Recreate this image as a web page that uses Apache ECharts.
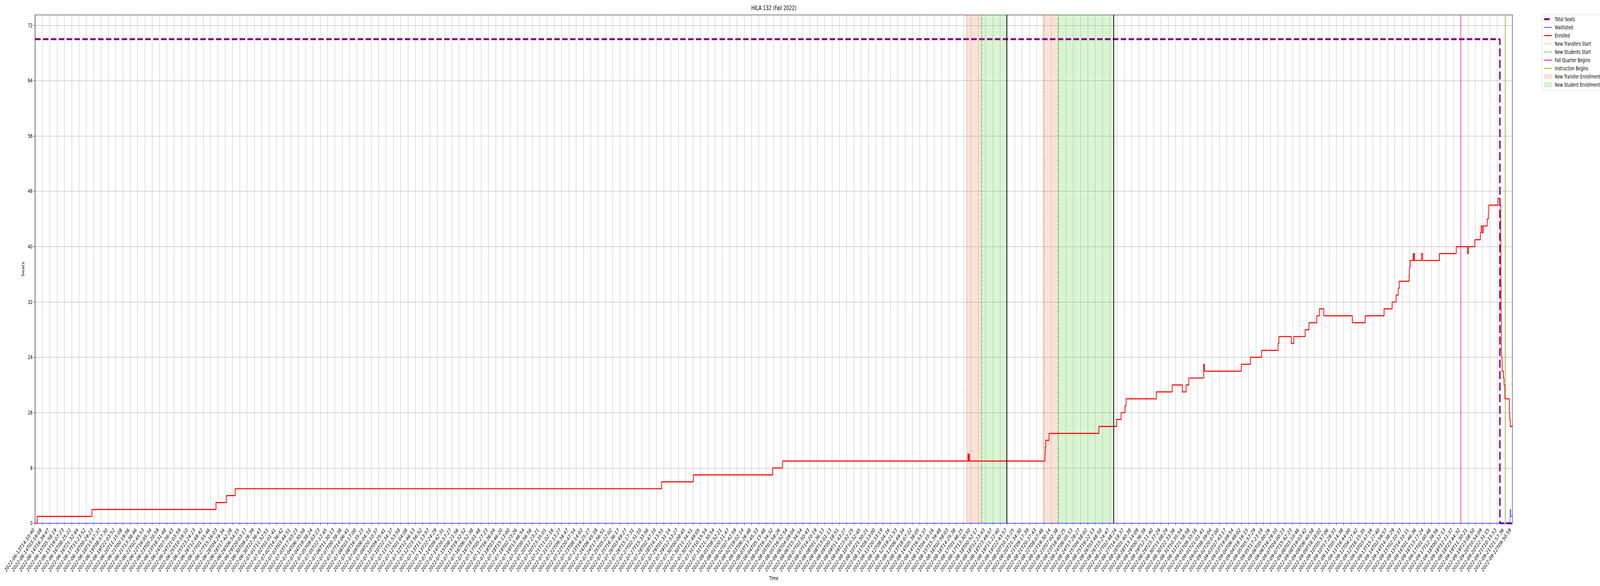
<!DOCTYPE html>
<html>
<head>
<meta charset="utf-8">
<script src="https://cdn.jsdelivr.net/npm/echarts@6/dist/echarts.min.js"></script>
<style>
html,body{margin:0;padding:0;background:#ffffff;overflow:hidden;}
#wrap{position:absolute;left:0;top:0;width:100vw;height:1500px;overflow:hidden;}
#chart{width:6000px;height:1500px;transform-origin:0 0;}
</style>
</head>
<body>
<div id="wrap"><div id="chart"></div></div>
<script>
// ---------- data ----------
const tickLabels = [
"2022-06-13T14:10:40","2022-06-14T03:19:08","2022-06-14T16:39:47","2022-06-15T05:58:19","2022-06-15T19:07:23",
"2022-06-16T08:25:22","2022-06-16T21:32:44","2022-06-17T11:23:52","2022-06-18T00:29:23","2022-06-18T13:47:37",
"2022-06-19T08:57:30","2022-06-19T22:03:52","2022-06-20T11:15:08","2022-06-21T00:19:56","2022-06-21T13:38:46",
"2022-06-22T02:45:53","2022-06-22T16:05:34","2022-06-23T05:20:59","2022-06-23T18:31:48","2022-06-24T07:56:43",
"2022-06-24T21:03:59","2022-06-25T10:19:10","2022-06-25T23:24:23","2022-06-26T12:49:42","2022-06-27T01:55:46",
"2022-06-27T15:16:03","2022-06-28T04:29:34","2022-06-28T17:42:28","2022-06-29T06:54:15","2022-06-29T20:03:17",
"2022-06-30T09:26:39","2022-06-30T22:36:43","2022-07-01T11:52:51","2022-07-02T01:01:41","2022-07-02T14:36:42",
"2022-07-03T03:44:51","2022-07-03T17:03:23","2022-07-04T06:30:58","2022-07-04T19:38:24","2022-07-05T09:03:23",
"2022-07-05T22:12:45","2022-07-06T11:30:13","2022-07-07T00:39:38","2022-07-07T14:06:41","2022-07-08T03:17:00",
"2022-07-08T16:35:23","2022-07-09T06:04:10","2022-07-09T20:10:37","2022-07-10T09:25:41","2022-07-10T22:34:37",
"2022-07-11T11:53:58","2022-07-12T01:04:08","2022-07-12T12:46:13","2022-07-12T23:56:52","2022-07-13T11:13:57",
"2022-07-13T22:24:29","2022-07-14T09:42:31","2022-07-14T20:57:27","2022-07-15T08:21:56","2022-07-15T19:32:52",
"2022-07-16T06:52:38","2022-07-16T18:01:48","2022-07-17T05:27:23","2022-07-17T16:36:04","2022-07-18T03:46:20",
"2022-07-18T15:13:00","2022-07-19T02:23:26","2022-07-19T13:46:54","2022-07-20T00:56:56","2022-07-20T12:23:21",
"2022-07-20T23:35:01","2022-07-21T11:02:16","2022-07-21T22:13:27","2022-07-22T09:34:47","2022-07-22T20:47:54",
"2022-07-23T08:14:02","2022-07-23T19:25:27","2022-07-24T06:45:18","2022-07-24T17:56:51","2022-07-25T05:22:02",
"2022-07-25T16:36:17","2022-07-26T03:49:27","2022-07-26T15:17:31","2022-07-27T02:31:10","2022-07-27T15:33:56",
"2022-07-28T02:47:10","2022-07-28T14:13:51","2022-07-29T01:31:14","2022-07-29T12:53:27","2022-07-30T00:08:45",
"2022-07-30T11:34:51","2022-07-30T22:49:05","2022-07-31T10:15:54","2022-07-31T21:30:54","2022-08-01T08:52:21",
"2022-08-01T20:11:47","2022-08-02T07:42:59","2022-08-02T19:02:14","2022-08-03T06:26:48","2022-08-03T17:45:33",
"2022-08-04T05:15:48","2022-08-04T16:34:32","2022-08-05T03:58:26","2022-08-05T16:52:54","2022-08-06T04:09:04",
"2022-08-06T15:34:54","2022-08-07T02:50:43","2022-08-07T14:20:19","2022-08-08T01:36:13","2022-08-08T13:01:13",
"2022-08-09T00:18:51","2022-08-09T11:43:27","2022-08-09T23:02:25","2022-08-10T10:32:45","2022-08-10T21:50:21",
"2022-08-11T09:13:00","2022-08-11T20:33:19","2022-08-12T08:04:16","2022-08-12T19:21:53","2022-08-13T06:49:34",
"2022-08-13T18:07:22","2022-08-14T05:38:05","2022-08-14T16:53:37","2022-08-15T04:10:16","2022-08-15T15:39:48",
"2022-08-16T02:58:03","2022-08-16T14:25:38","2022-08-17T01:46:25","2022-08-17T13:30:50","2022-08-18T00:52:17",
"2022-08-18T12:23:43","2022-08-18T23:49:57","2022-08-19T11:22:40","2022-08-19T22:43:57","2022-08-20T10:15:25",
"2022-08-20T21:34:30","2022-08-21T09:17:39","2022-08-21T20:37:43","2022-08-22T08:07:46","2022-08-22T19:30:14",
"2022-08-23T07:02:38","2022-08-23T18:40:25","2022-08-24T06:05:53","2022-08-24T17:28:27","2022-08-25T04:58:02",
"2022-08-25T16:22:13","2022-08-26T03:48:50","2022-08-26T15:24:47","2022-08-27T02:48:24","2022-08-27T14:18:37",
"2022-08-28T01:40:38","2022-08-28T13:14:09","2022-08-29T00:36:39","2022-08-29T12:11:40","2022-08-29T23:37:29",
"2022-08-30T11:08:29","2022-08-30T22:33:38","2022-08-31T10:35:54","2022-08-31T21:58:58","2022-09-01T09:33:16",
"2022-09-01T21:01:41","2022-09-02T08:39:04","2022-09-02T20:07:00","2022-09-03T07:43:17","2022-09-03T19:09:54",
"2022-09-04T06:49:02","2022-09-04T18:16:15","2022-09-05T05:57:29","2022-09-05T17:23:19","2022-09-06T05:00:26",
"2022-09-06T16:29:10","2022-09-07T04:00:23","2022-09-07T15:42:23","2022-09-08T03:10:46","2022-09-08T19:03:42",
"2022-09-09T06:40:58","2022-09-09T18:18:02","2022-09-10T05:57:06","2022-09-10T17:28:33","2022-09-11T05:14:38",
"2022-09-11T16:44:00","2022-09-12T04:27:42","2022-09-12T16:15:35","2022-09-13T03:47:16","2022-09-13T15:27:40",
"2022-09-14T02:59:57","2022-09-14T14:38:29","2022-09-15T02:10:37","2022-09-15T14:10:11","2022-09-16T01:46:36",
"2022-09-16T13:27:24","2022-09-17T01:00:46","2022-09-17T12:39:56","2022-09-18T00:12:13","2022-09-18T12:11:37",
"2022-09-18T23:44:32","2022-09-19T11:30:21","2022-09-19T23:08:50","2022-09-20T10:54:09","2022-09-20T22:31:15",
"2022-09-21T10:15:53","2022-09-21T21:57:36","2022-09-22T09:50:59"
];

// time position in tick-label index units (fractional = between labelled samples)
const xEnd = 202.1;

const seatsT = [0, 200.37, 202.1];
const seatsV = [70, 0, 0];

const waitT = [0, 201.76, 201.85, 202.1];
const waitV = [0, 2, 1, 1];

const enrolledT = [
  0, 0.29, 7.78, 24.74, 26.17, 27.37, 85.71, 90.04, 100.89, 102.24,
  127.60, 127.68, 127.73, 127.82, 138.13, 138.18, 138.25, 138.70,
  145.51, 147.93, 148.55, 149.10, 149.23, 153.37, 155.54, 156.93, 157.44, 157.82,
  159.85, 159.94, 165.00, 166.24, 167.78, 170.02, 170.14, 171.84, 172.18, 173.73,
  174.24, 175.32, 175.68, 176.28, 180.19, 181.94, 184.53, 185.63, 186.18, 186.46,
  186.60, 187.95, 188.00, 188.09, 188.51, 188.56, 188.60, 188.68, 189.65, 189.81,
  192.10, 194.40, 195.94, 196.07, 196.94, 197.70, 197.80, 197.95, 198.10, 198.64,
  198.80, 198.85, 200.12, 200.36, 200.47, 200.50, 200.53, 200.57, 200.60, 200.67,
  200.85, 200.94, 201.05, 201.66, 201.72, 201.79, 202.1
];
const enrolledV = [
  0, 1, 2, 3, 4, 5, 6, 7, 8, 9,
  10, 9, 10, 9, 10, 11, 12, 13,
  14, 15, 16, 17, 18, 19, 20, 19, 20, 21,
  23, 22, 23, 24, 25, 26, 27, 26, 27, 28,
  29, 30, 31, 30, 29, 30, 31, 32, 33, 34,
  35, 36, 37, 38, 39, 38, 39, 38, 39, 38,
  39, 40, 39, 40, 41, 42, 43, 42, 43, 44,
  45, 46, 47, 46, 41, 35, 30, 25, 24, 22,
  21, 20, 18, 16, 15, 14, 14
];

const transferStartT = [127.41, 137.88];
const studentStartT = [129.48, 139.95];
const windowEndT = [132.92, 147.53];
const fallBeginsT = [195.0];
const instructionBeginsT = [201.15];

const yTicks = [0, 8, 16, 24, 32, 40, 48, 56, 64, 72];

// ---------- chart ----------
const FONT = 'DejaVu Sans';
const zip = (t, v) => t.map((x, i) => [x, v[i]]);
const xTickValues = tickLabels.map((_, i) => i);

const transferFill = 'rgba(230,110,60,0.2)';
const studentFill = 'rgba(60,200,30,0.2)';

// the window may be narrower than the 6000px design: fit the full chart horizontally
const chartEl = document.getElementById('chart');
const sx = Math.min(1, (window.innerWidth || 6000) / 6000);
if (sx < 1) chartEl.style.transform = 'scale(' + sx + ',1)';

function vlineSeries(name, positions, style, z) {
  return {
    name: name, type: 'line', data: [], symbol: 'none', z: z,
    lineStyle: style,
    markLine: {
      silent: true, animation: false, symbol: ['none', 'none'],
      label: {show: false}, lineStyle: style, z: z,
      emphasis: {disabled: true},
      data: positions.map(p => ({xAxis: p}))
    }
  };
}
function spanSeries(name, starts, ends, fill) {
  return {
    name: name, type: 'line', data: [], symbol: 'none',
    itemStyle: {color: fill},
    lineStyle: {color: fill},
    markArea: {
      silent: true, animation: false,
      itemStyle: {color: fill, borderColor: fill, borderWidth: 1.2},
      label: {show: false},
      emphasis: {disabled: true},
      data: starts.map((s, i) => [{xAxis: s}, {xAxis: ends[i]}])
    }
  };
}

const chart = echarts.init(chartEl, null, {renderer: 'svg', width: 6000, height: 1500});
const hidden = {color: 'rgba(0,0,0,0)', borderColor: 'rgba(0,0,0,0)', borderWidth: 0};

chart.setOption({
  animation: false,
  backgroundColor: '#ffffff',
  textStyle: {fontFamily: FONT},
  title: {
    text: 'HILA 132 (Fall 2022)', left: 2902, top: 12, textAlign: 'center', padding: 0,
    textStyle: {fontFamily: FONT, fontSize: 16.7, fontWeight: 'normal', color: '#000'}
  },
  grid: {
    left: 131.7, right: 328, top: 38.3, bottom: 160.5,
    show: true, borderColor: '#000', borderWidth: 1.1, backgroundColor: 'transparent',
    outerBoundsMode: 'none'
  },
  legend: {
    orient: 'vertical', left: 5783, top: 38,
    padding: [4, 8, 7, 5], itemWidth: 29, itemHeight: 11, itemGap: 7,
    backgroundColor: 'rgba(255,255,255,0.8)', borderColor: '#cccccc', borderWidth: 1, borderRadius: 3,
    textStyle: {fontFamily: FONT, fontSize: 13.9, color: '#000', lineHeight: 14, padding: [0, 0, 0, 6]},
    lineStyle: {width: 'inherit', type: 'inherit'},
    selectedMode: false,
    data: [
      {name: 'Total Seats', itemStyle: hidden},
      {name: 'Waitlisted', itemStyle: hidden},
      {name: 'Enrolled', itemStyle: hidden},
      {name: 'New Transfers Start', itemStyle: hidden},
      {name: 'New Students Start', itemStyle: hidden},
      {name: 'Fall Quarter Begins', itemStyle: hidden},
      {name: 'Instruction Begins', itemStyle: hidden},
      {name: 'New Transfer Enrollment', icon: 'rect', itemStyle: {color: transferFill, borderColor: 'rgba(230,110,60,0.3)', borderWidth: 1}},
      {name: 'New Student Enrollment', icon: 'rect', itemStyle: {color: studentFill, borderColor: 'rgba(60,200,30,0.3)', borderWidth: 1}}
    ]
  },
  xAxis: {
    type: 'value', min: 0, max: xEnd, interval: 1,
    name: 'Time', nameLocation: 'middle', nameGap: 130.7,
    nameTextStyle: {fontFamily: FONT, fontSize: 13.9, color: '#000'},
    axisLine: {show: true, onZero: false, lineStyle: {color: '#000', width: 1.1}},
    axisTick: {show: true, length: 4.9, lineStyle: {color: '#000', width: 1.1}, customValues: xTickValues},
    axisLabel: {
      show: true, rotate: 45, margin: 9.7, fontFamily: FONT, fontSize: 13.9, color: '#000',
      padding: [0, 7, 0, 0], hideOverlap: false, showMinLabel: true, showMaxLabel: true,
      customValues: xTickValues,
      formatter: function (v) {
        const r = Math.round(v);
        return Math.abs(v - r) < 1e-6 && tickLabels[r] !== undefined ? tickLabels[r] : '';
      }
    },
    splitLine: {show: true, lineStyle: {color: '#b0b0b0', width: 1.1}}
  },
  yAxis: {
    type: 'value', min: 0, max: 73.5, interval: 8,
    name: 'Seats', nameLocation: 'middle', nameGap: 35, nameRotate: 90,
    nameTextStyle: {fontFamily: FONT, fontSize: 13.9, color: '#000'},
    axisLine: {show: true, onZero: false, lineStyle: {color: '#000', width: 1.1}},
    axisTick: {show: true, length: 4.9, lineStyle: {color: '#000', width: 1.1}, customValues: yTicks},
    axisLabel: {
      show: true, margin: 9.7, fontFamily: FONT, fontSize: 13.9, color: '#000',
      customValues: yTicks,
      formatter: function (v) { return yTicks.indexOf(v) >= 0 ? String(v) : ''; }
    },
    splitLine: {show: true, lineStyle: {color: '#b0b0b0', width: 1.1}}
  },
  series: [
    spanSeries('New Transfer Enrollment', transferStartT, studentStartT, transferFill),
    spanSeries('New Student Enrollment', studentStartT, windowEndT, studentFill),
    {
      name: 'Total Seats', type: 'line', step: 'end', symbol: 'none', showSymbol: false, z: 3,
      data: zip(seatsT, seatsV),
      lineStyle: {color: '#800080', width: 5.2, type: [20.6, 8.9]}
    },
    {
      name: 'Waitlisted', type: 'line', step: 'end', symbol: 'none', showSymbol: false, z: 3,
      data: zip(waitT, waitV),
      lineStyle: {color: '#0000ff', width: 1.4}
    },
    {
      name: 'Enrolled', type: 'line', step: 'end', symbol: 'none', showSymbol: false, z: 3,
      data: zip(enrolledT, enrolledV),
      lineStyle: {color: '#ff0000', width: 2.7}
    },
    vlineSeries('New Transfers Start', transferStartT, {color: '#f0703a', width: 2.1, type: [2.1, 3.4]}, 4),
    vlineSeries('New Students Start', studentStartT, {color: '#3acd1a', width: 2.1, type: [7.7, 3.3]}, 4),
    vlineSeries('Fall Quarter Begins', fallBeginsT, {color: '#e0119a', width: 2.1, type: 'solid'}, 4),
    vlineSeries('Instruction Begins', instructionBeginsT, {color: '#8cb80c', width: 2.1, type: 'solid'}, 4),
    vlineSeries('Enrollment Window End', windowEndT, {color: '#000000', width: 2.8, type: 'solid'}, 4)
  ]
});
</script>
</body>
</html>
